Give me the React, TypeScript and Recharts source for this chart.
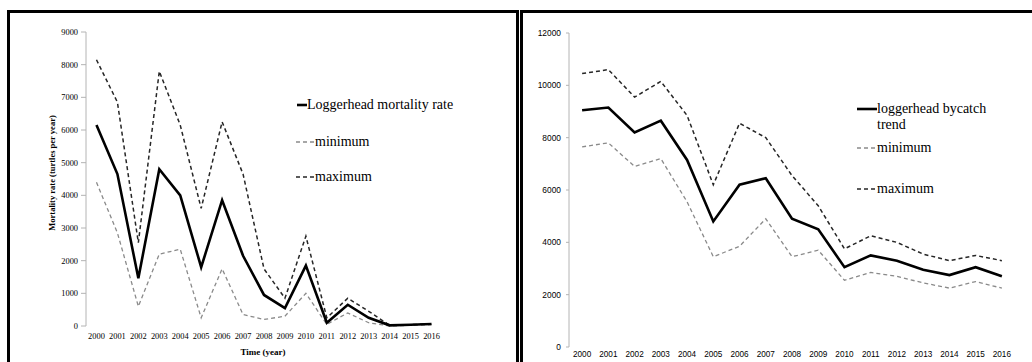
import React from 'react';
import { LineChart, Line, XAxis, YAxis } from 'recharts';

const years = ['2000', '2001', '2002', '2003', '2004', '2005', '2006', '2007', '2008', '2009', '2010', '2011', '2012', '2013', '2014', '2015', '2016'];

// Left chart: loggerhead mortality rate (turtles per year)
const mortalityRate = [6150, 4650, 1460, 4800, 4000, 1800, 3850, 2150, 950, 550, 1850, 100, 650, 250, 20, 40, 60];
const mortalityMin = [4400, 2850, 600, 2200, 2350, 250, 1750, 350, 200, 300, 1000, 50, 400, 100, 0, 20, 40];
const mortalityMax = [8150, 6850, 2550, 7800, 6150, 3600, 6250, 4650, 1750, 850, 2750, 250, 850, 450, 20, 40, 70];
const leftYTicks = [0, 1000, 2000, 3000, 4000, 5000, 6000, 7000, 8000, 9000];

// Right chart: loggerhead bycatch trend
const bycatchTrend = [9050, 9150, 8200, 8650, 7150, 4800, 6200, 6450, 4900, 4500, 3050, 3500, 3300, 2950, 2750, 3050, 2700];
const bycatchMin = [7650, 7800, 6900, 7200, 5550, 3450, 3850, 4900, 3450, 3700, 2550, 2850, 2700, 2450, 2250, 2500, 2250];
const bycatchMax = [10450, 10600, 9550, 10150, 8850, 6200, 8550, 8000, 6550, 5400, 3750, 4250, 4000, 3550, 3300, 3500, 3300];
const rightYTicks = [0, 2000, 4000, 6000, 8000, 10000, 12000];

const leftData = years.map((y, i) => ({ i, year: y, rate: mortalityRate[i], min: mortalityMin[i], max: mortalityMax[i] }));
const rightData = years.map((y, i) => ({ i, year: y, trend: bycatchTrend[i], min: bycatchMin[i], max: bycatchMax[i] }));

const labelTicks = years.map((_, i) => i);
const sepTicks = [...years.map((_, i) => i - 0.5), years.length - 0.5];
const xDomain: [number, number] = [-0.5, years.length - 0.5];

const AXIS = '#b4b4b4';
const SERIF = '"Liberation Serif", "Times New Roman", serif';
const SANS = '"Liberation Sans", Arial, sans-serif';

const SOLID = { stroke: '#000', strokeWidth: 2.6 };
const MAXS = { stroke: '#262626', strokeWidth: 1.5, strokeDasharray: '4 3' };
const MINS = { stroke: '#8a8a8a', strokeWidth: 1.3, strokeDasharray: '4 3' };

function LegendRow({ x, y, sampleW, s, label, fontSize = 14 }: any) {
  return (
    <div style={{ position: 'absolute', left: x, top: y - 9, height: 18, display: 'flex', alignItems: 'center', fontFamily: SERIF, fontSize, color: '#000', whiteSpace: 'nowrap' }}>
      <svg width={sampleW} height={6} style={{ display: 'block' }}>
        <line x1={0} y1={3} x2={sampleW} y2={3} stroke={s.stroke} strokeWidth={s.strokeWidth} strokeDasharray={s.strokeDasharray} />
      </svg>
      <span>{label}</span>
    </div>
  );
}

export default function App() {
  return (
    <div style={{ position: 'fixed', left: 0, top: 0, width: 1032, height: 362, overflow: 'hidden', background: '#fff' }}>
      {/* Left chart */}
      <div style={{ position: 'absolute', left: 0, top: 0 }}>
        <LineChart width={520} height={362} data={leftData} margin={{ top: 32, right: 78, bottom: 0, left: 0 }}>
          <XAxis xAxisId="sep" type="number" dataKey="i" domain={xDomain} ticks={sepTicks} interval={0} tick={false}
            tickLine={{ stroke: AXIS }} tickSize={4} axisLine={{ stroke: AXIS }} height={0} />
          <XAxis xAxisId="lab" type="number" dataKey="i" domain={xDomain} ticks={labelTicks} interval={0}
            tickFormatter={(v: number) => years[v]} axisLine={false} tickLine={false} tickSize={0} tickMargin={7} height={36}
            tick={{ fontSize: 8.4, fill: '#000', fontFamily: SERIF }} />
          <YAxis type="number" domain={[0, 9000]} ticks={leftYTicks} interval={0} width={86} tickSize={5} tickMargin={3}
            axisLine={{ stroke: AXIS }} tickLine={{ stroke: AXIS }} tick={{ fontSize: 8.4, fill: '#000', fontFamily: SERIF }} />
          <Line xAxisId="lab" dataKey="max" type="linear" dot={false} isAnimationActive={false} {...MAXS} />
          <Line xAxisId="lab" dataKey="min" type="linear" dot={false} isAnimationActive={false} {...MINS} />
          <Line xAxisId="lab" dataKey="rate" type="linear" dot={false} isAnimationActive={false} {...SOLID} />
        </LineChart>
      </div>
      <div style={{ position: 'absolute', left: 52 - 80, top: 173 - 6, width: 160, height: 12, lineHeight: '12px', textAlign: 'center', transform: 'rotate(-90deg)', fontFamily: SERIF, fontWeight: 'bold', fontSize: 8.5, color: '#000', whiteSpace: 'nowrap' }}>
        Mortality rate (turtles per year)
      </div>
      <div style={{ position: 'absolute', left: 263 - 50, top: 346, width: 100, textAlign: 'center', fontFamily: SERIF, fontWeight: 'bold', fontSize: 9, color: '#000', lineHeight: '12px' }}>
        Time (year)
      </div>
      <LegendRow x={297} y={105} sampleW={10} s={SOLID} label="Loggerhead mortality rate" />
      <LegendRow x={296} y={142} sampleW={19} s={MINS} label="minimum" />
      <LegendRow x={296} y={177} sampleW={19} s={MAXS} label="maximum" />

      {/* Right chart */}
      <div style={{ position: 'absolute', left: 520, top: 0 }}>
        <LineChart width={512} height={362} data={rightData} margin={{ top: 33, right: 17, bottom: 0, left: 0 }}>
          <XAxis xAxisId="sep" type="number" dataKey="i" domain={xDomain} ticks={sepTicks} interval={0} tick={false}
            tickLine={{ stroke: AXIS }} tickSize={3} axisLine={{ stroke: AXIS }} height={0} />
          <XAxis xAxisId="lab" type="number" dataKey="i" domain={xDomain} ticks={labelTicks} interval={0}
            tickFormatter={(v: number) => years[v]} axisLine={false} tickLine={false} tickSize={0} tickMargin={4} height={15}
            tick={{ fontSize: 8.2, fill: '#000', fontFamily: SANS }} />
          <YAxis type="number" domain={[0, 12000]} ticks={rightYTicks} interval={0} width={49} tickSize={3} tickMargin={5}
            axisLine={{ stroke: AXIS }} tickLine={{ stroke: AXIS }} tick={{ fontSize: 8.4, fill: '#000', fontFamily: SANS }} />
          <Line xAxisId="lab" dataKey="max" type="linear" dot={false} isAnimationActive={false} {...MAXS} />
          <Line xAxisId="lab" dataKey="min" type="linear" dot={false} isAnimationActive={false} {...MINS} />
          <Line xAxisId="lab" dataKey="trend" type="linear" dot={false} isAnimationActive={false} {...SOLID} />
        </LineChart>
      </div>
      <LegendRow x={857} y={109} sampleW={20} s={SOLID} label="loggerhead bycatch" />
      <div style={{ position: 'absolute', left: 877, top: 125 - 9, height: 18, lineHeight: '18px', fontFamily: SERIF, fontSize: 14, color: '#000' }}>trend</div>
      <LegendRow x={857} y={148} sampleW={20} s={MINS} label="minimum" />
      <LegendRow x={857} y={189} sampleW={20} s={MAXS} label="maximum" />

      {/* Panel borders */}
      <div style={{ position: 'absolute', left: 7, top: 10, width: 512, height: 400, boxSizing: 'border-box', border: '3px solid #000', pointerEvents: 'none' }} />
      <div style={{ position: 'absolute', left: 520, top: 10, width: 530, height: 400, boxSizing: 'border-box', border: '3px solid #000', pointerEvents: 'none' }} />
    </div>
  );
}
